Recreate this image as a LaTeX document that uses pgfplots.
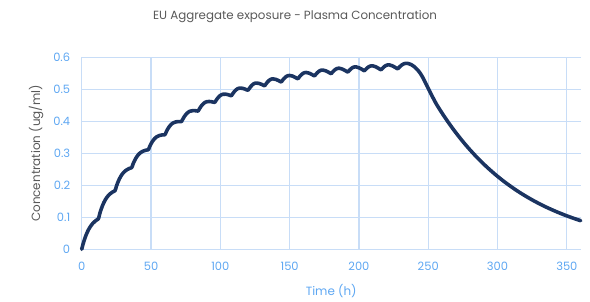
\documentclass[border=0pt]{standalone}
\usepackage{pgfplots}
\pgfplotsset{compat=1.18}
\usepackage{fontspec}
\setmainfont{Poppins}
\definecolor{linec}{HTML}{1B3461}
\definecolor{gridc}{HTML}{C8DDF7}
\definecolor{tickc}{HTML}{5EA7F2}
\definecolor{titlec}{HTML}{595959}
\pgfplotstableread{
t c
0 0
1 0.0165
2 0.0307
3 0.0428
4 0.0532
5 0.0620
6 0.0695
8 0.0810
10 0.0892
12 0.095
13 0.1109
14 0.1246
15 0.1364
16 0.1463
17 0.1546
18 0.1614
20 0.1716
22 0.1784
24 0.183
25 0.1965
26 0.2083
27 0.2183
28 0.2266
29 0.2335
30 0.2390
32 0.2470
34 0.2519
36 0.255
37 0.2662
38 0.2759
39 0.2841
40 0.2909
41 0.2964
42 0.3006
44 0.3063
46 0.3094
48 0.311
49 0.3209
50 0.3297
51 0.3370
52 0.3430
53 0.3477
54 0.3512
56 0.3555
58 0.3574
60 0.358
61 0.3672
62 0.3754
63 0.3822
64 0.3877
65 0.3919
66 0.3949
68 0.3983
70 0.3992
72 0.399
73 0.4072
74 0.4145
75 0.4205
76 0.4253
77 0.4289
78 0.4312
80 0.4333
82 0.4331
84 0.432
85 0.4395
86 0.4462
87 0.4517
88 0.4560
89 0.4591
90 0.4609
92 0.4620
94 0.4609
96 0.459
97 0.4658
98 0.4719
99 0.4769
100 0.4807
101 0.4833
102 0.4846
104 0.4847
106 0.4827
108 0.480
109 0.4864
110 0.4922
111 0.4970
112 0.5005
113 0.5027
114 0.5037
116 0.5031
118 0.5004
120 0.497
121 0.5032
122 0.5089
123 0.5135
124 0.5168
125 0.5189
126 0.5196
128 0.5183
130 0.5150
132 0.511
133 0.5171
134 0.5226
135 0.5270
136 0.5302
137 0.5321
138 0.5326
140 0.5310
142 0.5273
144 0.523
145 0.5287
146 0.5339
147 0.5381
148 0.5411
149 0.5428
150 0.5432
152 0.5414
154 0.5374
156 0.533
157 0.5386
158 0.5436
159 0.5477
160 0.5506
161 0.5522
162 0.5525
164 0.5505
166 0.5465
168 0.542
169 0.5472
170 0.5520
171 0.5558
172 0.5585
173 0.5599
174 0.5601
176 0.5579
178 0.5536
180 0.549
181 0.5539
182 0.5584
183 0.5620
184 0.5644
185 0.5657
186 0.5657
188 0.5632
190 0.5588
192 0.554
193 0.5587
194 0.5631
195 0.5665
196 0.5689
197 0.5700
198 0.5699
200 0.5673
202 0.5629
204 0.558
205 0.5626
206 0.5668
207 0.5701
208 0.5723
209 0.5734
210 0.5732
212 0.5705
214 0.5659
216 0.561
217 0.5656
218 0.5698
219 0.5731
220 0.5753
221 0.5764
222 0.5762
224 0.5735
226 0.5689
228 0.564
229 0.5685
230 0.5727
231 0.5762
232 0.5788
233 0.5805
234 0.5812
235 0.5810
236 0.5800
238 0.5765
240 0.5705
242 0.5620
244 0.5515
246 0.5375
248 0.5205
250 0.503
252 0.4855
254 0.4690
256 0.4530
260 0.4255
264 0.3998
268 0.3756
272 0.3529
276 0.3315
280 0.3115
284 0.2926
288 0.2749
292 0.2583
296 0.2427
300 0.2280
304 0.2142
308 0.2013
312 0.1891
316 0.1776
320 0.1669
324 0.1568
328 0.1473
332 0.1384
336 0.1300
340 0.1222
344 0.1148
348 0.1078
352 0.1013
356 0.0952
360 0.0894
}\conc
\begin{document}
\begin{tikzpicture}
\path[use as bounding box] (-81.7bp,-52.7bp) rectangle (508.3bp,249.3bp);
\begin{axis}[
  at={(0,0)}, anchor=south west,
  scale only axis, width=499bp, height=192bp,
  xmin=0, xmax=360, ymin=0, ymax=0.6,
  xtick={0,50,...,350}, ytick={0,0.1,...,0.6},
  axis line style={draw=none},
  major tick length=0pt,
  grid=major,
  major grid style={color=gridc, line width=1.3pt},
  /pgf/number format/assume math mode=true,
  /pgf/number format/fixed,
  yticklabel={\pgfmathprintnumber[fixed,precision=1]{\tick}},
  tick label style={color=tickc, font=\fontsize{11.5}{13}\selectfont},
  xticklabel style={yshift=-9bp},
  yticklabel style={xshift=-8bp},
  every axis title shift=0pt,
  title={EU Aggregate exposure - Plasma Concentration},
  title style={at={(axis description cs:0.4275,1.2099)}, anchor=center, color=titlec, font=\fontsize{11.9}{14}\selectfont},
  xlabel={Time (h)},
  xlabel style={at={(axis description cs:0.5,-0.2172)}, anchor=center, color=tickc, font=\fontsize{12}{14}\selectfont},
  ylabel={Concentration (ug/ml)},
  ylabel style={at={(axis description cs:-0.0916,0.5)}, anchor=center, color=titlec, font=\fontsize{12}{14}\selectfont},
  clip=false,
]
\addplot[color=linec, line width=3.6pt, line join=round, line cap=round, smooth, tension=0.5] table[x=t, y=c] {\conc};
\end{axis}
\end{tikzpicture}
\end{document}
